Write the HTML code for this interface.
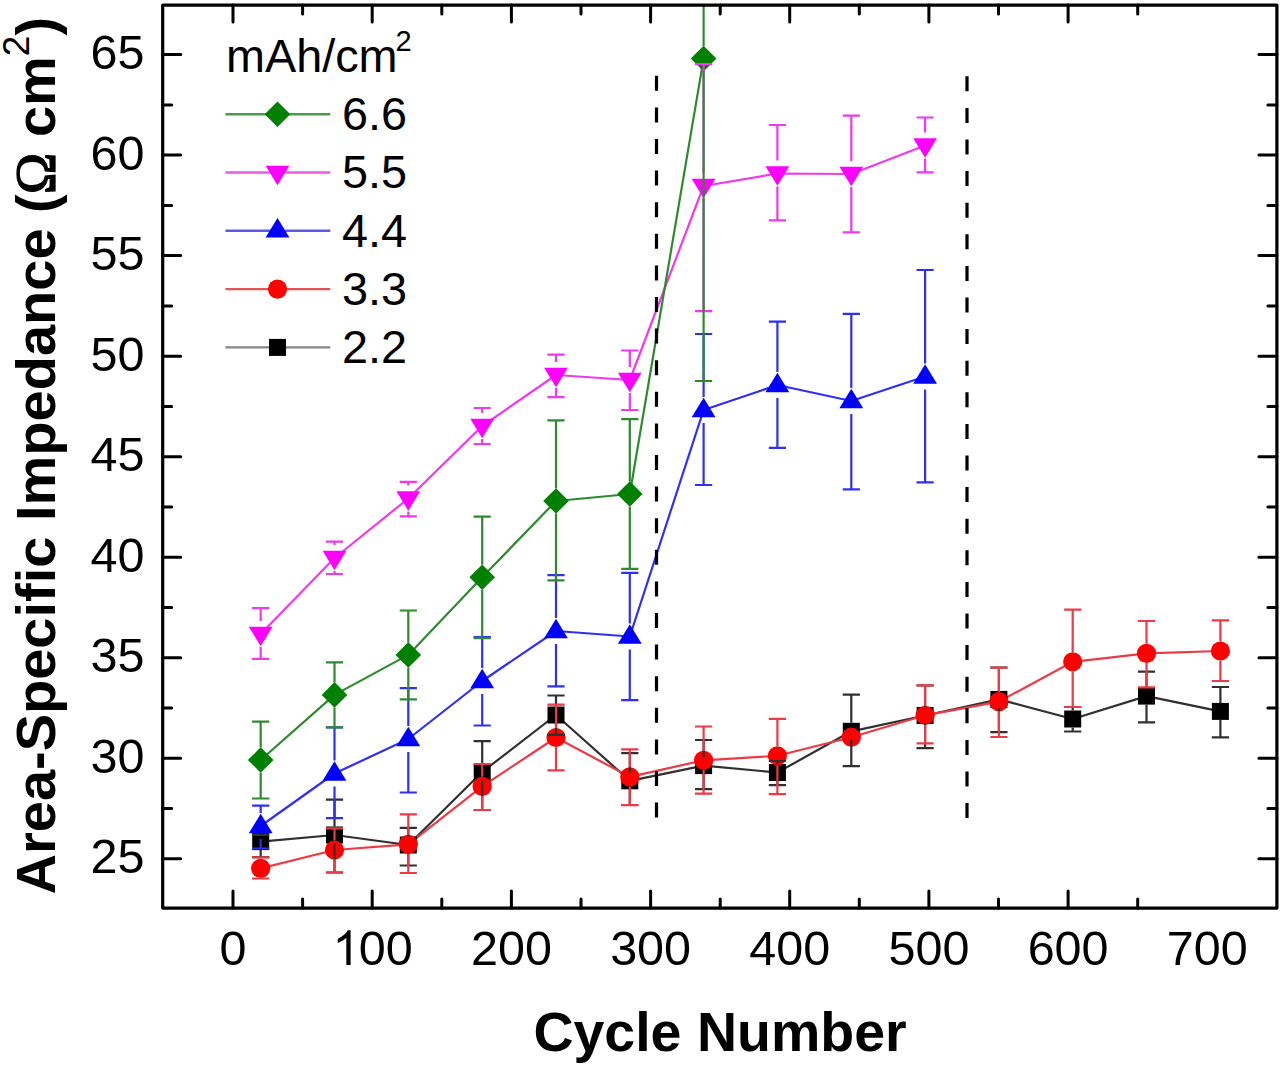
<!DOCTYPE html>
<html><head><meta charset="utf-8"><style>
html,body{margin:0;padding:0;background:#fff;}
body{width:1280px;height:1066px;overflow:hidden;}
svg{display:block;}
#wrap{width:1280px;height:1066px;}
.tl{font-family:"Liberation Sans",sans-serif;font-size:48.5px;fill:#000;}
.ttl{font-family:"Liberation Sans",sans-serif;font-size:56px;font-weight:bold;fill:#000;}
.om{font-weight:normal;font-family:"Liberation Serif",serif;stroke:#000;stroke-width:1.3px;}
.sup{font-weight:normal;font-size:37px;}
.lg{font-family:"Liberation Sans",sans-serif;font-size:46.8px;fill:#000;}
.lsup{font-size:29px;}
</style></head><body><div id="wrap">
<svg width="1280" height="1066" viewBox="0 0 1280 1066">
<defs><clipPath id="clip"><rect x="162.7" y="5.1" width="1114.2" height="903.0"/></clipPath></defs>
<g clip-path="url(#clip)">
<polyline points="260.7,841.6 334.5,835.0 408.3,845.0 482.2,772.0 556.0,715.0 629.8,780.8 703.6,765.6 777.4,772.5 851.3,731.3 925.1,715.5 998.9,699.4 1072.7,719.0 1146.5,696.1 1220.4,711.4" fill="none" stroke="#303030" stroke-width="2.2" stroke-linejoin="round"/>
<polyline points="260.7,868.4 334.5,850.0 408.3,844.3 482.2,786.4 556.0,737.5 629.8,776.9 703.6,760.3 777.4,755.8 851.3,737.2 925.1,715.3 998.9,701.6 1072.7,661.8 1146.5,653.4 1220.4,651.0" fill="none" stroke="#ec3a46" stroke-width="2.2" stroke-linejoin="round"/>
<polyline points="260.7,826.0 334.5,773.5 408.3,739.0 482.2,681.0 556.0,631.0 629.8,636.5 703.6,410.0 777.4,385.0 851.3,401.0 925.1,376.5" fill="none" stroke="#3030f4" stroke-width="2.2" stroke-linejoin="round"/>
<polyline points="260.7,634.0 334.5,558.0 408.3,498.5 482.2,426.0 556.0,375.0 629.8,380.0 703.6,186.0 777.4,173.5 851.3,174.0 925.1,145.5" fill="none" stroke="#ee3aee" stroke-width="2.2" stroke-linejoin="round"/>
<polyline points="260.7,760.0 334.5,694.9 408.3,654.9 482.2,577.3 556.0,501.0 629.8,494.0 703.6,58.6" fill="none" stroke="#2f8a2f" stroke-width="2.2" stroke-linejoin="round"/>
<rect x="252.2" y="833.1" width="17" height="17" fill="#000000"/>
<rect x="326.0" y="826.5" width="17" height="17" fill="#000000"/>
<rect x="399.8" y="836.5" width="17" height="17" fill="#000000"/>
<rect x="473.7" y="763.5" width="17" height="17" fill="#000000"/>
<rect x="547.5" y="706.5" width="17" height="17" fill="#000000"/>
<rect x="621.3" y="772.3" width="17" height="17" fill="#000000"/>
<rect x="695.1" y="757.1" width="17" height="17" fill="#000000"/>
<rect x="768.9" y="764.0" width="17" height="17" fill="#000000"/>
<rect x="842.8" y="722.8" width="17" height="17" fill="#000000"/>
<rect x="916.6" y="707.0" width="17" height="17" fill="#000000"/>
<rect x="990.4" y="690.9" width="17" height="17" fill="#000000"/>
<rect x="1064.2" y="710.5" width="17" height="17" fill="#000000"/>
<rect x="1138.0" y="687.6" width="17" height="17" fill="#000000"/>
<rect x="1211.9" y="702.9" width="17" height="17" fill="#000000"/>
<circle cx="260.7" cy="868.4" r="9.6" fill="#ff0000"/>
<circle cx="334.5" cy="850.0" r="9.6" fill="#ff0000"/>
<circle cx="408.3" cy="844.3" r="9.6" fill="#ff0000"/>
<circle cx="482.2" cy="786.4" r="9.6" fill="#ff0000"/>
<circle cx="556.0" cy="737.5" r="9.6" fill="#ff0000"/>
<circle cx="629.8" cy="776.9" r="9.6" fill="#ff0000"/>
<circle cx="703.6" cy="760.3" r="9.6" fill="#ff0000"/>
<circle cx="777.4" cy="755.8" r="9.6" fill="#ff0000"/>
<circle cx="851.3" cy="737.2" r="9.6" fill="#ff0000"/>
<circle cx="925.1" cy="715.3" r="9.6" fill="#ff0000"/>
<circle cx="998.9" cy="701.6" r="9.6" fill="#ff0000"/>
<circle cx="1072.7" cy="661.8" r="9.6" fill="#ff0000"/>
<circle cx="1146.5" cy="653.4" r="9.6" fill="#ff0000"/>
<circle cx="1220.4" cy="651.0" r="9.6" fill="#ff0000"/>
<path d="M248.8 833.2L272.6 833.2L260.7 813.7Z" fill="#0000ff"/>
<path d="M322.6 780.7L346.4 780.7L334.5 761.2Z" fill="#0000ff"/>
<path d="M396.4 746.2L420.2 746.2L408.3 726.7Z" fill="#0000ff"/>
<path d="M470.3 688.2L494.1 688.2L482.2 668.7Z" fill="#0000ff"/>
<path d="M544.1 638.2L567.9 638.2L556.0 618.7Z" fill="#0000ff"/>
<path d="M617.9 643.7L641.7 643.7L629.8 624.2Z" fill="#0000ff"/>
<path d="M691.7 417.2L715.5 417.2L703.6 397.7Z" fill="#0000ff"/>
<path d="M765.5 392.2L789.3 392.2L777.4 372.7Z" fill="#0000ff"/>
<path d="M839.4 408.2L863.2 408.2L851.3 388.7Z" fill="#0000ff"/>
<path d="M913.2 383.7L937.0 383.7L925.1 364.2Z" fill="#0000ff"/>
<path d="M248.8 626.8L272.6 626.8L260.7 646.3Z" fill="#ff00ff"/>
<path d="M322.6 550.8L346.4 550.8L334.5 570.3Z" fill="#ff00ff"/>
<path d="M396.4 491.3L420.2 491.3L408.3 510.8Z" fill="#ff00ff"/>
<path d="M470.3 418.8L494.1 418.8L482.2 438.3Z" fill="#ff00ff"/>
<path d="M544.1 367.8L567.9 367.8L556.0 387.3Z" fill="#ff00ff"/>
<path d="M617.9 372.8L641.7 372.8L629.8 392.3Z" fill="#ff00ff"/>
<path d="M691.7 178.8L715.5 178.8L703.6 198.3Z" fill="#ff00ff"/>
<path d="M765.5 166.3L789.3 166.3L777.4 185.8Z" fill="#ff00ff"/>
<path d="M839.4 166.8L863.2 166.8L851.3 186.3Z" fill="#ff00ff"/>
<path d="M913.2 138.3L937.0 138.3L925.1 157.8Z" fill="#ff00ff"/>
<path d="M260.7 747.2L273.5 760.0L260.7 772.8L247.9 760.0Z" fill="#008000"/>
<path d="M334.5 682.1L347.3 694.9L334.5 707.7L321.7 694.9Z" fill="#008000"/>
<path d="M408.3 642.1L421.1 654.9L408.3 667.7L395.5 654.9Z" fill="#008000"/>
<path d="M482.2 564.5L495.0 577.3L482.2 590.1L469.4 577.3Z" fill="#008000"/>
<path d="M556.0 488.2L568.8 501.0L556.0 513.8L543.2 501.0Z" fill="#008000"/>
<path d="M629.8 481.2L642.6 494.0L629.8 506.8L617.0 494.0Z" fill="#008000"/>
<path d="M703.6 45.8L716.4 58.6L703.6 71.4L690.8 58.6Z" fill="#008000"/>
<path d="M252.1 835.0H269.3M260.7 850.1V857.1M252.1 857.1H269.3" stroke="#303030" stroke-width="2.2" fill="none"/>
<path d="M334.5 799.7V826.5M325.9 799.7H343.1M334.5 843.5V872.5M325.9 872.5H343.1" stroke="#303030" stroke-width="2.2" fill="none"/>
<path d="M408.3 827.9V836.5M399.7 827.9H416.9M408.3 853.5V865.5M399.7 865.5H416.9" stroke="#303030" stroke-width="2.2" fill="none"/>
<path d="M482.2 741.2V763.5M473.6 741.2H490.8M482.2 780.5V810.0M473.6 810.0H490.8" stroke="#303030" stroke-width="2.2" fill="none"/>
<path d="M556.0 695.5V706.5M547.4 695.5H564.6M556.0 723.5V734.9M547.4 734.9H564.6" stroke="#303030" stroke-width="2.2" fill="none"/>
<path d="M629.8 753.2V772.3M621.2 753.2H638.4M629.8 789.3V805.0M621.2 805.0H638.4" stroke="#303030" stroke-width="2.2" fill="none"/>
<path d="M703.6 740.0V757.1M695.0 740.0H712.2M703.6 774.1V789.2M695.0 789.2H712.2" stroke="#303030" stroke-width="2.2" fill="none"/>
<path d="M777.4 761.0V764.0M768.8 761.0H786.0M777.4 781.0V785.2M768.8 785.2H786.0" stroke="#303030" stroke-width="2.2" fill="none"/>
<path d="M851.3 694.6V722.8M842.7 694.6H859.9M851.3 739.8V766.1M842.7 766.1H859.9" stroke="#303030" stroke-width="2.2" fill="none"/>
<path d="M925.1 685.5V707.0M916.5 685.5H933.7M925.1 724.0V748.1M916.5 748.1H933.7" stroke="#303030" stroke-width="2.2" fill="none"/>
<path d="M998.9 667.5V690.9M990.3 667.5H1007.5M998.9 707.9V732.2M990.3 732.2H1007.5" stroke="#303030" stroke-width="2.2" fill="none"/>
<path d="M1072.7 707.0V710.5M1064.1 707.0H1081.3M1072.7 727.5V731.5M1064.1 731.5H1081.3" stroke="#303030" stroke-width="2.2" fill="none"/>
<path d="M1146.5 671.6V687.6M1137.9 671.6H1155.1M1146.5 704.6V722.4M1137.9 722.4H1155.1" stroke="#303030" stroke-width="2.2" fill="none"/>
<path d="M1220.4 687.0V702.9M1211.8 687.0H1229.0M1220.4 719.9V737.3M1211.8 737.3H1229.0" stroke="#303030" stroke-width="2.2" fill="none"/>
<path d="M260.7 857.3V858.8M252.1 857.3H269.3M260.7 878.0V878.5M252.1 878.5H269.3" stroke="#ec3a46" stroke-width="2.2" fill="none"/>
<path d="M334.5 828.4V840.4M325.9 828.4H343.1M334.5 859.6V872.5M325.9 872.5H343.1" stroke="#ec3a46" stroke-width="2.2" fill="none"/>
<path d="M408.3 814.4V834.7M399.7 814.4H416.9M408.3 853.9V873.0M399.7 873.0H416.9" stroke="#ec3a46" stroke-width="2.2" fill="none"/>
<path d="M482.2 764.0V776.8M473.6 764.0H490.8M482.2 796.0V810.0M473.6 810.0H490.8" stroke="#ec3a46" stroke-width="2.2" fill="none"/>
<path d="M556.0 704.7V727.9M547.4 704.7H564.6M556.0 747.1V770.3M547.4 770.3H564.6" stroke="#ec3a46" stroke-width="2.2" fill="none"/>
<path d="M629.8 749.3V767.3M621.2 749.3H638.4M629.8 786.5V805.2M621.2 805.2H638.4" stroke="#ec3a46" stroke-width="2.2" fill="none"/>
<path d="M703.6 726.5V750.7M695.0 726.5H712.2M703.6 769.9V793.7M695.0 793.7H712.2" stroke="#ec3a46" stroke-width="2.2" fill="none"/>
<path d="M777.4 718.8V746.2M768.8 718.8H786.0M777.4 765.4V794.2M768.8 794.2H786.0" stroke="#ec3a46" stroke-width="2.2" fill="none"/>
<path d="M925.1 685.3V705.7M916.5 685.3H933.7M925.1 724.9V743.4M916.5 743.4H933.7" stroke="#ec3a46" stroke-width="2.2" fill="none"/>
<path d="M998.9 667.7V692.0M990.3 667.7H1007.5M998.9 711.2V737.0M990.3 737.0H1007.5" stroke="#ec3a46" stroke-width="2.2" fill="none"/>
<path d="M1072.7 609.7V652.2M1064.1 609.7H1081.3M1072.7 671.4V707.0M1064.1 707.0H1081.3" stroke="#ec3a46" stroke-width="2.2" fill="none"/>
<path d="M1146.5 621.0V643.8M1137.9 621.0H1155.1M1146.5 663.0V687.4M1137.9 687.4H1155.1" stroke="#ec3a46" stroke-width="2.2" fill="none"/>
<path d="M1220.4 620.3V641.4M1211.8 620.3H1229.0M1220.4 660.6V681.0M1211.8 681.0H1229.0" stroke="#ec3a46" stroke-width="2.2" fill="none"/>
<path d="M260.7 805.6V813.0M252.1 805.6H269.3M260.7 839.0V848.5M252.1 848.5H269.3" stroke="#3030f4" stroke-width="2.2" fill="none"/>
<path d="M334.5 727.3V760.5M325.9 727.3H343.1M334.5 786.5V818.2M325.9 818.2H343.1" stroke="#3030f4" stroke-width="2.2" fill="none"/>
<path d="M408.3 688.2V726.0M399.7 688.2H416.9M408.3 752.0V792.5M399.7 792.5H416.9" stroke="#3030f4" stroke-width="2.2" fill="none"/>
<path d="M482.2 637.0V668.0M473.6 637.0H490.8M482.2 694.0V725.5M473.6 725.5H490.8" stroke="#3030f4" stroke-width="2.2" fill="none"/>
<path d="M556.0 575.2V618.0M547.4 575.2H564.6M556.0 644.0V686.3M547.4 686.3H564.6" stroke="#3030f4" stroke-width="2.2" fill="none"/>
<path d="M629.8 572.8V623.5M621.2 572.8H638.4M629.8 649.5V700.2M621.2 700.2H638.4" stroke="#3030f4" stroke-width="2.2" fill="none"/>
<path d="M703.6 334.0V397.0M695.0 334.0H712.2M703.6 423.0V485.0M695.0 485.0H712.2" stroke="#3030f4" stroke-width="2.2" fill="none"/>
<path d="M777.4 321.6V372.0M768.8 321.6H786.0M777.4 398.0V447.8M768.8 447.8H786.0" stroke="#3030f4" stroke-width="2.2" fill="none"/>
<path d="M851.3 313.8V388.0M842.7 313.8H859.9M851.3 414.0V489.3M842.7 489.3H859.9" stroke="#3030f4" stroke-width="2.2" fill="none"/>
<path d="M925.1 270.0V363.5M916.5 270.0H933.7M925.1 389.5V482.3M916.5 482.3H933.7" stroke="#3030f4" stroke-width="2.2" fill="none"/>
<path d="M260.7 608.1V621.0M252.1 608.1H269.3M260.7 647.0V658.8M252.1 658.8H269.3" stroke="#ee3aee" stroke-width="2.2" fill="none"/>
<path d="M334.5 541.6V545.0M325.9 541.6H343.1M334.5 571.0V574.0M325.9 574.0H343.1" stroke="#ee3aee" stroke-width="2.2" fill="none"/>
<path d="M408.3 481.9V485.5M399.7 481.9H416.9M408.3 511.5V516.3M399.7 516.3H416.9" stroke="#ee3aee" stroke-width="2.2" fill="none"/>
<path d="M482.2 408.0V413.0M473.6 408.0H490.8M482.2 439.0V444.0M473.6 444.0H490.8" stroke="#ee3aee" stroke-width="2.2" fill="none"/>
<path d="M556.0 354.7V362.0M547.4 354.7H564.6M556.0 388.0V397.2M547.4 397.2H564.6" stroke="#ee3aee" stroke-width="2.2" fill="none"/>
<path d="M629.8 350.5V367.0M621.2 350.5H638.4M629.8 393.0V410.0M621.2 410.0H638.4" stroke="#ee3aee" stroke-width="2.2" fill="none"/>
<path d="M703.6 64.2V173.0M695.0 64.2H712.2M703.6 199.0V311.1M695.0 311.1H712.2" stroke="#ee3aee" stroke-width="2.2" fill="none"/>
<path d="M777.4 125.0V160.5M768.8 125.0H786.0M777.4 186.5V220.3M768.8 220.3H786.0" stroke="#ee3aee" stroke-width="2.2" fill="none"/>
<path d="M851.3 115.6V161.0M842.7 115.6H859.9M851.3 187.0V232.3M842.7 232.3H859.9" stroke="#ee3aee" stroke-width="2.2" fill="none"/>
<path d="M925.1 117.5V132.5M916.5 117.5H933.7M925.1 158.5V172.3M916.5 172.3H933.7" stroke="#ee3aee" stroke-width="2.2" fill="none"/>
<path d="M260.7 721.6V747.5M252.1 721.6H269.3M260.7 772.5V798.5M252.1 798.5H269.3" stroke="#2f8a2f" stroke-width="2.2" fill="none"/>
<path d="M334.5 662.4V682.4M325.9 662.4H343.1M334.5 707.4V727.3M325.9 727.3H343.1" stroke="#2f8a2f" stroke-width="2.2" fill="none"/>
<path d="M408.3 610.5V642.4M399.7 610.5H416.9M408.3 667.4V699.4M399.7 699.4H416.9" stroke="#2f8a2f" stroke-width="2.2" fill="none"/>
<path d="M482.2 516.6V564.8M473.6 516.6H490.8M482.2 589.8V638.2M473.6 638.2H490.8" stroke="#2f8a2f" stroke-width="2.2" fill="none"/>
<path d="M556.0 420.3V488.5M547.4 420.3H564.6M556.0 513.5V580.4M547.4 580.4H564.6" stroke="#2f8a2f" stroke-width="2.2" fill="none"/>
<path d="M629.8 419.2V481.5M621.2 419.2H638.4M629.8 506.5V568.8M621.2 568.8H638.4" stroke="#2f8a2f" stroke-width="2.2" fill="none"/>
<path d="M703.6 -300.0V46.1M703.6 71.1V381.0M695.0 381.0H712.2" stroke="#2f8a2f" stroke-width="2.2" fill="none"/>
</g>
<line x1="656.5" y1="75.8" x2="656.5" y2="818.5" stroke="#000" stroke-width="3.2" stroke-dasharray="15 16.6"/>
<line x1="967.0" y1="76.3" x2="967.0" y2="818.5" stroke="#000" stroke-width="3.2" stroke-dasharray="15 16.6"/>
<path d="M233.0 908.1V891.1M233.0 5.1V22.1M302.6 908.1V899.1M302.6 5.1V14.1M372.2 908.1V891.1M372.2 5.1V22.1M441.8 908.1V899.1M441.8 5.1V14.1M511.4 908.1V891.1M511.4 5.1V22.1M581.0 908.1V899.1M581.0 5.1V14.1M650.6 908.1V891.1M650.6 5.1V22.1M720.2 908.1V899.1M720.2 5.1V14.1M789.7 908.1V891.1M789.7 5.1V22.1M859.3 908.1V899.1M859.3 5.1V14.1M928.9 908.1V891.1M928.9 5.1V22.1M998.5 908.1V899.1M998.5 5.1V14.1M1068.1 908.1V891.1M1068.1 5.1V22.1M1137.7 908.1V899.1M1137.7 5.1V14.1M162.7 858.8H180.7M1276.9 858.8H1258.9M162.7 808.5H171.7M1276.9 808.5H1267.9M162.7 758.2H180.7M1276.9 758.2H1258.9M162.7 708.0H171.7M1276.9 708.0H1267.9M162.7 657.7H180.7M1276.9 657.7H1258.9M162.7 607.5H171.7M1276.9 607.5H1267.9M162.7 557.2H180.7M1276.9 557.2H1258.9M162.7 506.9H171.7M1276.9 506.9H1267.9M162.7 456.7H180.7M1276.9 456.7H1258.9M162.7 406.4H171.7M1276.9 406.4H1267.9M162.7 356.2H180.7M1276.9 356.2H1258.9M162.7 305.9H171.7M1276.9 305.9H1267.9M162.7 255.6H180.7M1276.9 255.6H1258.9M162.7 205.4H171.7M1276.9 205.4H1267.9M162.7 155.1H180.7M1276.9 155.1H1258.9M162.7 104.9H171.7M1276.9 104.9H1267.9M162.7 54.6H180.7M1276.9 54.6H1258.9" stroke="#000" stroke-width="3" stroke-linecap="round" fill="none"/>
<rect x="162.7" y="5.1" width="1114.2" height="903.0" fill="none" stroke="#000" stroke-width="3.2" stroke-linejoin="round"/>
<text x="144.5" y="873.2" text-anchor="end" class="tl">25</text>
<text x="144.5" y="772.7" text-anchor="end" class="tl">30</text>
<text x="144.5" y="672.2" text-anchor="end" class="tl">35</text>
<text x="144.5" y="571.7" text-anchor="end" class="tl">40</text>
<text x="144.5" y="471.2" text-anchor="end" class="tl">45</text>
<text x="144.5" y="370.7" text-anchor="end" class="tl">50</text>
<text x="144.5" y="270.1" text-anchor="end" class="tl">55</text>
<text x="144.5" y="169.6" text-anchor="end" class="tl">60</text>
<text x="144.5" y="69.1" text-anchor="end" class="tl">65</text>
<text x="233.0" y="965" text-anchor="middle" class="tl">0</text>
<text x="372.2" y="965" text-anchor="middle" class="tl"><tspan fill="transparent">1</tspan>00</text>
<path transform="translate(332.53,965) scale(0.02368,-0.02368)" d="M763 0L583 0L583 1147Q518 1085 412 1023Q306 961 222 930L222 1104Q373 1175 486 1276Q599 1377 646 1472L763 1472Z" fill="#000"/>
<text x="511.4" y="965" text-anchor="middle" class="tl">200</text>
<text x="650.6" y="965" text-anchor="middle" class="tl">300</text>
<text x="789.7" y="965" text-anchor="middle" class="tl">400</text>
<text x="928.9" y="965" text-anchor="middle" class="tl">500</text>
<text x="1068.1" y="965" text-anchor="middle" class="tl">600</text>
<text x="1207.3" y="965" text-anchor="middle" class="tl">700</text>
<text x="720" y="1051" text-anchor="middle" class="ttl" style="font-size:55.5px">Cycle Number</text>
<text transform="translate(55,894.5) rotate(-90)" class="ttl">Area-Specific Impedance (<tspan class="om">&#937;</tspan> cm<tspan class="sup" dy="-26">2</tspan><tspan dy="26">)</tspan></text>
<text x="226" y="72.4" class="lg">mAh/cm<tspan class="lsup" dx="-2" dy="-21">2</tspan></text>
<line x1="225.5" y1="114.2" x2="330.3" y2="114.2" stroke="#4a9a4a" stroke-width="2.4"/>
<path d="M277.5 101.4L290.3 114.2L277.5 127.0L264.7 114.2Z" fill="#008000"/>
<text x="342" y="130.0" class="lg">6.6</text>
<line x1="225.5" y1="172.5" x2="330.3" y2="172.5" stroke="#e45ce4" stroke-width="2.4"/>
<path d="M265.6 165.8L289.4 165.8L277.5 185.3Z" fill="#ff00ff"/>
<text x="342" y="188.3" class="lg">5.5</text>
<line x1="225.5" y1="230.8" x2="330.3" y2="230.8" stroke="#5a5ae4" stroke-width="2.4"/>
<path d="M265.6 237.5L289.4 237.5L277.5 218.0Z" fill="#0000ff"/>
<text x="342" y="246.6" class="lg">4.4</text>
<line x1="225.5" y1="289.1" x2="330.3" y2="289.1" stroke="#e45454" stroke-width="2.4"/>
<circle cx="277.5" cy="289.1" r="9.6" fill="#ff0000"/>
<text x="342" y="304.9" class="lg">3.3</text>
<line x1="225.5" y1="347.4" x2="330.3" y2="347.4" stroke="#858585" stroke-width="2.4"/>
<rect x="269.0" y="338.9" width="17" height="17" fill="#000000"/>
<text x="342" y="363.2" class="lg">2.2</text>
</svg></div>
</body></html>
